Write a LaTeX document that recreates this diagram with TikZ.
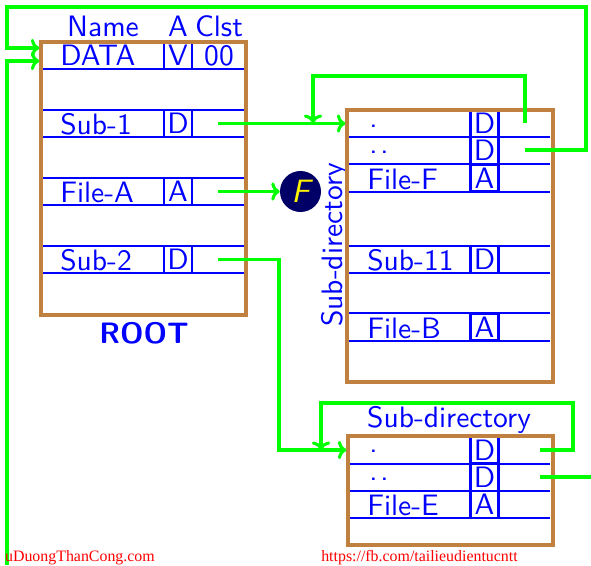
\documentclass[tikz,border=0pt]{standalone}
\usepackage{fontspec}
\newfontfamily\footfont{Liberation Serif}
\newfontfamily\dirfont{lmsans10-regular}[Extension=.otf, BoldFont=lmsans10-bold, ItalicFont=lmsans10-oblique]
\usetikzlibrary{fit,arrows.meta}
\definecolor{boxbrown}{rgb}{0.75,0.5,0.25}
\definecolor{fnavy}{rgb}{0,0,0.4}

\begin{document}
\begin{tikzpicture}[x=0.025cm, y=-0.025cm,
  every node/.style={font=\dirfont\fontsize{21}{24}\selectfont, text=blue, inner sep=0pt},
  entry/.style={anchor=base west},
  head/.style={anchor=base},
  attr/.style={draw=blue, line width=1.5pt, minimum width=0.7cm, minimum height=0.675cm},
  row/.style={blue, line width=1.5pt},
  dirbox/.style={draw=boxbrown, line width=2.4pt},
  link/.style={green, line width=2.2pt, -{To[length=6pt, width=13pt]}}]
  \useasboundingbox (0,0) rectangle (591,565);

  % root directory
  \foreach \y in {42,69,110,137,178,205,246,273} \draw[row] (43,\y) -- (245,\y);
  \node[head] (hname) at (103,37) {Name};
  \node[head] (hattr) at (178,37) {A};
  \node[head] (hclst) at (219,37) {Clst};
  \node[entry] (data) at (60,66) {DATA};
  \node[attr] (dataA) at (178,55.5) {V};
  \node[head] (dataC) at (219,66) {00};
  \node[entry] (sub1) at (60,134) {Sub-1};
  \node[attr] (sub1A) at (178,123.5) {D};
  \node[entry] (fileA) at (60,202) {File-A};
  \node[attr] (fileAA) at (178,191.5) {A};
  \node[entry] (sub2) at (60,270) {Sub-2};
  \node[attr] (sub2A) at (178,259.5) {D};
  \node[dirbox, fit={(41,42) (246,315)}] (root) {};
  \node[font=\dirfont\bfseries\fontsize{21}{24}\selectfont] (rootlbl) at (144,333) {ROOT};

  % file F
  \node[circle, fill=fnavy, minimum size=1.025cm, text=yellow,
    font=\dirfont\itshape\fontsize{23}{24}\selectfont] (fnode) at (300.5,191.5) {F};

  % sub-directory of Sub-1
  \foreach \y in {110,137,164,192,246,273,313,341} \draw[row] (349,\y) -- (550,\y);
  \node[rotate=90, anchor=base] (lblA) at (342,245) {Sub-directory};
  \node[entry] (dotA) at (369,127) {.};
  \node[attr] (dotAA) at (484.5,123.5) {D};
  \node[entry] (ddotA) at (369,153) {.\kern2pt.};
  \node[attr] (ddotAA) at (484.5,150.5) {D};
  \node[entry] (fileF) at (367,189) {File-F};
  \node[attr] (fileFA) at (484.5,178) {A};
  \node[entry] (sub11) at (367,270) {Sub-11};
  \node[attr] (sub11A) at (484.5,259.5) {D};
  \node[entry] (fileB) at (367,338) {File-B};
  \node[attr] (fileBA) at (484.5,327) {A};
  \node[dirbox, fit={(347,110) (553,382)}] (subA) {};

  % sub-directory of Sub-2
  \foreach \y in {436,464,491,518} \draw[row] (350,\y) -- (550,\y);
  \node[head] (lblB) at (449,427) {Sub-directory};
  \node[entry] (dotB) at (369,452) {.};
  \node[attr] (dotBA) at (484.5,450) {D};
  \node[entry] (ddotB) at (369,480) {.\kern2pt.};
  \node[attr] (ddotBA) at (484.5,477.5) {D};
  \node[entry] (fileE) at (367,515) {File-E};
  \node[attr] (fileEA) at (484.5,504.5) {A};
  \node[dirbox, fit={(348,436) (553,545)}] (subB) {};

  % pointers
  \coordinate (sub1p) at (218,123.5);
  \coordinate (fileAp) at (218,191.5);
  \coordinate (sub2p) at (218,259.5);
  \coordinate (dotAp) at (525,123);
  \coordinate (ddotAp) at (525,150);
  \coordinate (dotBp) at (540,450);
  \coordinate (ddotBp) at (540,477);
  \coordinate (edgeR) at (591,477);
  \coordinate (edgeB) at (7,565);

  \draw[link] (sub1p) -- (sub1p -| subA.west);
  \draw[link] (dotAp) |- (313,76) -- (313,123);
  \draw[link] (ddotAp) -- (586,150) |- (7,7) |- (root.west |- 0,48);
  \draw[link] (edgeB) |- (root.west |- 0,61);
  \draw[link] (fileAp) -- (fnode);
  \draw[link] (sub2p) -| (279,450) -- (subB.west |- 0,450);
  \draw[link] (dotBp) -- (573,450) |- (321,403) -- (321,450);
  \draw[green, line width=2.2pt] (ddotBp) -- (edgeR);

  % footer
  \node[anchor=base east, font=\footfont\fontsize{11.3}{13}\selectfont, text=red] (cuu) at (155,561) {uDuongThanCong.com};
  \node[anchor=base west, font=\footfont\fontsize{11.3}{13}\selectfont, text=red] (fb) at (321,561) {https://fb.com/tailieudientucntt};
\end{tikzpicture}
\end{document}
